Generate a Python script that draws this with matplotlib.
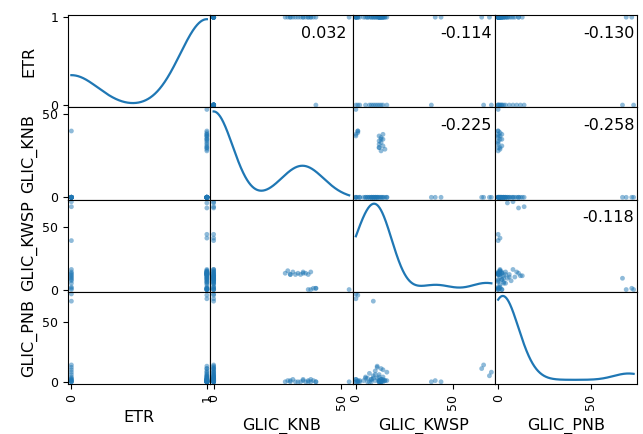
import numpy as np
import matplotlib
matplotlib.use("Agg")
import matplotlib.pyplot as plt
from matplotlib.ticker import MultipleLocator, FixedLocator

#-----Data-----#
columns = ["ETR", "GLIC_KNB", "GLIC_KWSP", "GLIC_PNB"]

etr = [0, 0, 0, 0, 0, 0, 0, 0, 0, 0, 0, 0, 0, 0, 0, 0,
       1, 1, 1, 1, 1, 1, 1, 1, 1, 1, 1, 1, 1, 1, 1, 1, 1, 1, 1, 1, 1,
       1, 1, 1, 1, 1, 1, 1, 1, 1, 1, 1, 1, 1, 1, 1, 1, 1, 1, 1, 1, 1, 1, 1]

glic_knb = [0, 0, 0, 0, 0, 40, 0, 0, 0, 0, 0, 0, 0, 0, 0, 0,
            0, 0, 0, 0, 0, 0, 28, 29, 30, 31, 33, 35, 36, 37, 38, 34, 37, 39, 38, 40, 53,
            0, 0, 0, 0, 0, 0, 0, 0, 0, 0, 0, 0, 0, 32, 0, 35, 0, 0, 0, 0, 0, 0, 30]

glic_kwsp = [70, 66, 39, 0, 9, 1, 2, 5, 8, 10, 12, 14, 16, 11, 7, 13,
             69, 65, 41, 44, 1, 0, 13, 15, 12, 14, 13, 14, 13, 12, 14, 12, 0, 1, 0, 1, 0,
             0, 2, 4, 5, 6, 7, 8, 8, 9, 10, 10, 11, 11, 12, 12, 13, 13, 14, 15, 16, 6, 9, 12]

glic_pnb = [8, 14, 0, 73, 67, 0, 1, 3, 2, 6, 4, 10, 1, 12, 0, 2,
            5, 11, 1, 0, 72, 69, 0, 1, 0, 2, 0, 1, 0, 1, 0, 0, 0, 1, 2, 0, 0,
            2, 0, 1, 4, 3, 7, 0, 2, 5, 1, 9, 3, 13, 0, 6, 2, 11, 4, 1, 8, 0, 3, 1]

# correlation values printed in the upper triangle
corr_values = [0.032, -0.114, -0.130, -0.225, -0.258, -0.118]

data = [np.array(etr, float), np.array(glic_knb, float),
        np.array(glic_kwsp, float), np.array(glic_pnb, float)]


def kdeCurve(values):
    n = len(values)
    bw = values.std(ddof=1) * n ** (-1 / 5)
    grid = np.linspace(values.min(), values.max(), 1000)
    dens = np.exp(-0.5 * ((grid[:, None] - values[None, :]) / bw) ** 2).sum(axis=1)
    return grid, dens / (n * bw * np.sqrt(2 * np.pi))


def boundaries(values, pad=0.05):
    ext = (values.max() - values.min()) * pad / 2
    return values.min() - ext, values.max() + ext


#-----Plot-----#
fig, axes = plt.subplots(4, 4, figsize=(6.43, 4.34), dpi=100)
fig.subplots_adjust(left=68 / 643, right=637 / 643, top=1 - 15 / 434, bottom=1 - 384 / 434,
                    wspace=0, hspace=0)

n = len(columns)
lims = [boundaries(v) for v in data]
blue = "#1f77b4"

k = 0
for i in range(n):
    for j in range(n):
        ax = axes[i, j]
        if i == j:
            grid, dens = kdeCurve(data[i])
            ax.plot(grid, dens, color=blue, lw=1.6)
        else:
            ax.scatter(data[j], data[i], s=12, alpha=0.5, color=blue, edgecolors="none")
            ax.set_ylim(lims[i])
            if j > i:
                ax.annotate("%.3f" % corr_values[k], (0.8, 0.8), xycoords="axes fraction",
                            ha="center", va="center", fontsize=11.5)
                k += 1
        ax.set_xlim(lims[j])
        ax.xaxis.set_major_locator(MultipleLocator(1 if j == 0 else 50))
        if i != 0:
            ax.yaxis.set_major_locator(MultipleLocator(50))
        else:
            ax.yaxis.set_major_locator(MultipleLocator(1))
        ax.set_xlabel(columns[j], fontsize=11.5, labelpad=6)
        ax.set_ylabel(columns[i], fontsize=11.5)
        ax.tick_params(labelsize=9)
        if j != 0:
            ax.yaxis.set_visible(False)
        if i != n - 1:
            ax.xaxis.set_visible(False)
        for lab in ax.get_xticklabels():
            lab.set_rotation(90)

# map ETR 0/1 ticks onto the kde axis
lim1 = lims[0]
locs = np.array([0.0, 1.0])
ylim0 = axes[0, 0].get_ylim()
adj = (locs - lim1[0]) / (lim1[1] - lim1[0]) * (ylim0[1] - ylim0[0]) + ylim0[0]
axes[0, 0].yaxis.set_major_locator(FixedLocator(adj))
axes[0, 0].set_yticklabels(["0", "1"])

fig.align_ylabels(axes[:, 0])

plt.savefig("out.png")
